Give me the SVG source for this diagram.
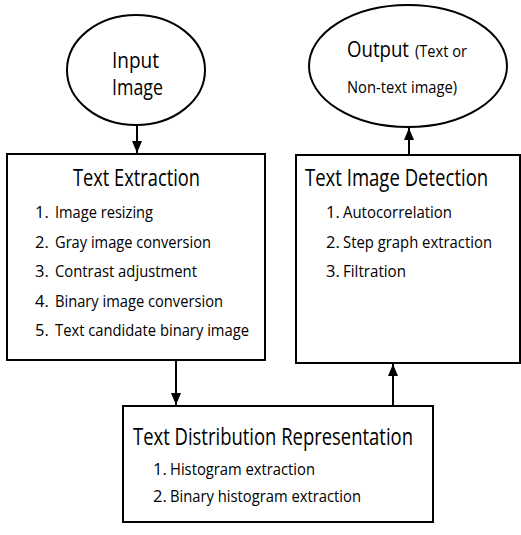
<svg xmlns="http://www.w3.org/2000/svg" width="521" height="535" viewBox="0 0 521 535">
<style>
.shape{fill:#fff;stroke:#000;stroke-width:2}
.t{font-family:"Open Sans","Liberation Sans",sans-serif;fill:#000}
.title{font-size:23px}
.item{font-size:16.5px}
.conn{stroke:#000;stroke-width:2;fill:none;marker-end:url(#ah)}
</style>
<defs>
<marker id="ah" viewBox="0 0 12 10" refX="12" refY="5" markerWidth="12" markerHeight="10" markerUnits="userSpaceOnUse" orient="auto">
<path d="M0,0 L12,5 L0,10 Z" fill="#000"/>
</marker>
</defs>
<rect width="521" height="535" fill="#fff"/>
<g id="connectors">
<line class="conn" x1="137" y1="126" x2="137" y2="153"/>
<line class="conn" x1="409" y1="154" x2="409" y2="128"/>
<line class="conn" x1="176" y1="361" x2="176" y2="405"/>
<line class="conn" x1="393" y1="405" x2="393" y2="364"/>
</g>
<g id="input-image">
<ellipse class="shape" cx="136" cy="70" rx="69" ry="55"/>
<text class="t" x="112" y="68" font-size="22" textLength="47" lengthAdjust="spacingAndGlyphs">Input</text>
<text class="t" x="112" y="95" font-size="22" textLength="51" lengthAdjust="spacingAndGlyphs">Image</text>
</g>
<g id="output">
<ellipse class="shape" cx="408" cy="66" rx="99" ry="61"/>
<text class="t" x="347" y="57" font-size="22" textLength="62" lengthAdjust="spacingAndGlyphs">Output</text>
<text class="t" x="415" y="57" font-size="17" textLength="52" lengthAdjust="spacingAndGlyphs">(Text or</text>
<text class="t" x="347" y="93" font-size="17" textLength="110" lengthAdjust="spacingAndGlyphs">Non-text image)</text>
</g>
<g id="text-extraction">
<rect class="shape" x="7" y="154" width="258" height="206"/>
<text class="t title" x="73" y="186" textLength="127" lengthAdjust="spacingAndGlyphs">Text Extraction</text>
<text class="t item" x="35" y="218">1.</text>
<text class="t item" x="55" y="218" textLength="98" lengthAdjust="spacingAndGlyphs">Image resizing</text>
<text class="t item" x="35" y="247.5">2.</text>
<text class="t item" x="55" y="247.5" textLength="156" lengthAdjust="spacingAndGlyphs">Gray image conversion</text>
<text class="t item" x="35" y="277">3.</text>
<text class="t item" x="55" y="277" textLength="142" lengthAdjust="spacingAndGlyphs">Contrast adjustment</text>
<text class="t item" x="35" y="306.5">4.</text>
<text class="t item" x="55" y="306.5" textLength="168" lengthAdjust="spacingAndGlyphs">Binary image conversion</text>
<text class="t item" x="35" y="336">5.</text>
<text class="t item" x="55" y="336" textLength="194" lengthAdjust="spacingAndGlyphs">Text candidate binary image</text>
</g>
<g id="text-image-detection">
<rect class="shape" x="296" y="155" width="224" height="208"/>
<text class="t title" transform="translate(305,186) scale(0.8,1)" x="0" y="0" textLength="229" lengthAdjust="spacingAndGlyphs">Text Image Detection</text>
<text class="t item" x="326" y="218">1.</text>
<text class="t item" x="343" y="218" textLength="109" lengthAdjust="spacingAndGlyphs">Autocorrelation</text>
<text class="t item" x="326" y="247.5">2.</text>
<text class="t item" x="343" y="247.5" textLength="149" lengthAdjust="spacingAndGlyphs">Step graph extraction</text>
<text class="t item" x="326" y="277">3.</text>
<text class="t item" x="343" y="277" textLength="63" lengthAdjust="spacingAndGlyphs">Filtration</text>
</g>
<g id="text-distribution-representation">
<rect class="shape" x="123" y="406" width="310" height="116"/>
<text class="t title" x="133" y="445" textLength="280" lengthAdjust="spacingAndGlyphs">Text Distribution Representation</text>
<text class="t item" x="153" y="475">1.</text>
<text class="t item" x="170" y="475" textLength="145" lengthAdjust="spacingAndGlyphs">Histogram extraction</text>
<text class="t item" x="153" y="502">2.</text>
<text class="t item" x="170" y="502" textLength="191" lengthAdjust="spacingAndGlyphs">Binary histogram extraction</text>
</g>
</svg>
